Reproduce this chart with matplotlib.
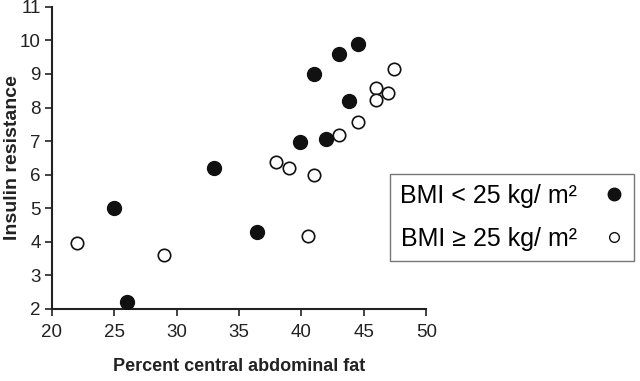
import matplotlib.pyplot as plt
from matplotlib.lines import Line2D

plt.rcParams['font.family'] = ['Liberation Sans', 'DejaVu Sans']

# BMI < 25 (filled)
x_lean = [25.0, 26.0, 33.0, 36.4, 39.9, 41.0, 42.0, 43.0, 43.8, 44.5]
y_lean = [5.0, 2.2, 6.19, 4.29, 6.96, 9.0, 7.07, 9.6, 8.2, 9.89]
# BMI >= 25 (open)
x_over = [22.0, 29.0, 38.0, 39.0, 41.0, 40.5, 43.0, 44.5, 46.0, 46.0, 46.9, 47.4]
y_over = [3.97, 3.6, 6.37, 6.19, 6.0, 4.17, 7.19, 7.57, 8.59, 8.22, 8.42, 9.16]

xticks = [20, 25, 30, 35, 40, 45, 50]
yticks = [2, 3, 4, 5, 6, 7, 8, 9, 10, 11]

fig = plt.figure(figsize=(6.4, 3.81), dpi=100)
ax = fig.add_axes([0.081, 0.189, 0.585, 0.793])

ax.scatter(x_lean, y_lean, s=100, c='#111111', edgecolors='#111111', zorder=3)
ax.scatter(x_over, y_over, s=80, facecolors='white', edgecolors='#111111',
           linewidths=1.2, zorder=3)

ax.set_xlim(20, 50)
ax.set_ylim(2, 11)
ax.set_xticks(xticks)
ax.set_yticks(yticks)
ax.tick_params(labelsize=13.5, colors='#222222', length=5, width=1.2, direction='out')
ax.tick_params(axis='x', pad=6)
ax.tick_params(axis='y', pad=3)
for s in ['top', 'right']:
    ax.spines[s].set_visible(False)
for s in ['left', 'bottom']:
    ax.spines[s].set_linewidth(1.5)
    ax.spines[s].set_color('#222222')

ax.set_xlabel('Percent central abdominal fat', fontsize=13, fontweight='bold',
              color='#222222', labelpad=12)
ax.set_ylabel('Insulin resistance', fontsize=14, fontweight='bold',
              color='#222222', va='center')
ax.yaxis.set_label_coords(-0.106, 0.5)

handles = [
    Line2D([], [], marker='o', linestyle='none', markersize=9,
           markerfacecolor='#111111', markeredgecolor='#111111'),
    Line2D([], [], marker='o', linestyle='none', markersize=7,
           markerfacecolor='white', markeredgecolor='#111111', markeredgewidth=1.0),
]
labels = ['BMI < 25 kg/ m\u00b2', 'BMI \u2265 25 kg/ m\u00b2']
leg = fig.legend(handles, labels, loc='center', bbox_to_anchor=(0.80, 0.429),
                 markerfirst=False, fontsize=18, frameon=True, fancybox=False,
                 edgecolor='#555555', handletextpad=1.1, labelspacing=0.75,
                 borderpad=0.4, borderaxespad=0, handlelength=0.8)
leg.get_frame().set_linewidth(1.0)

fig.savefig('out.png', dpi=100)
